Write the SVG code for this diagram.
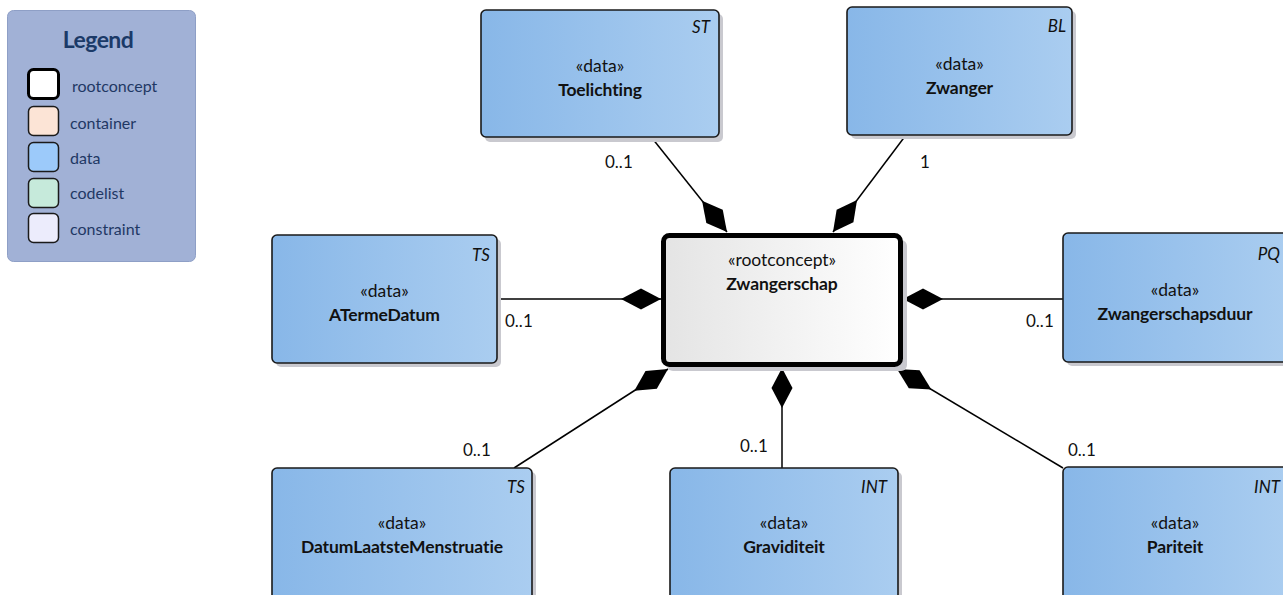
<svg xmlns="http://www.w3.org/2000/svg" width="1283" height="595" viewBox="0 0 1283 595">
<defs>
<linearGradient id="gData" x1="0" y1="0" x2="1" y2="0">
<stop offset="0" stop-color="#88b7e8"/>
<stop offset="1" stop-color="#aacdf0"/>
</linearGradient>
<linearGradient id="gRoot" x1="0" y1="0" x2="1" y2="0">
<stop offset="0" stop-color="#e4e4e4"/>
<stop offset="1" stop-color="#ffffff"/>
</linearGradient>
<marker id="dia" markerUnits="userSpaceOnUse" markerWidth="44" markerHeight="24" refX="40" refY="12" orient="auto">
<path d="M0,12 L20,1.5 L40,12 L20,22.5 Z" fill="#000"/>
</marker>
</defs>
<style>
.shadow{fill:#c9c9cf}
.data{fill:url(#gData);stroke:#1a1a1a;stroke-width:1.6}
.st{font-family:Lato,"Liberation Sans",sans-serif;font-size:17.5px;fill:#111;text-anchor:middle}
.nm{font-family:Lato,"Liberation Sans",sans-serif;font-size:17.5px;font-weight:bold;fill:#111;text-anchor:middle;letter-spacing:-0.1px}
.tp{font-family:Lato,"Liberation Sans",sans-serif;font-size:17px;font-style:italic;fill:#111;text-anchor:end}
.lbl{font-family:Lato,"Liberation Sans",sans-serif;font-size:17px;fill:#111}
.conn{stroke:#000;stroke-width:1.5;fill:none;marker-end:url(#dia)}
.lg{font-family:Lato,"Liberation Sans",sans-serif;font-size:16px;fill:#1f3864}
.sw{stroke:#1a1a1a;stroke-width:1.5}
</style>
<rect width="1283" height="595" fill="#ffffff"/>

<g id="legend">
<rect x="7.5" y="10.5" width="188" height="251" rx="6" fill="#a1b1d6" stroke="#8e9fc6" stroke-width="1"/>
<text x="98" y="48" text-anchor="middle" style="font-family:Lato,'Liberation Sans',sans-serif;font-size:23px;font-weight:bold;fill:#1b3a68;letter-spacing:-0.6px">Legend</text>
<rect x="28.5" y="69.5" width="30" height="29" rx="5" fill="#ffffff" stroke="#000" stroke-width="3"/>
<text class="lg" x="72" y="92">rootconcept</text>
<rect x="28.5" y="106.5" width="30" height="29" rx="5" fill="#fce4d6" class="sw"/>
<text class="lg" x="70" y="129">container</text>
<rect x="28.5" y="142.5" width="30" height="29" rx="5" fill="#9ccafa" class="sw"/>
<text class="lg" x="70" y="164">data</text>
<rect x="28.5" y="178.5" width="30" height="29" rx="5" fill="#c6eadb" class="sw"/>
<text class="lg" x="70" y="199">codelist</text>
<rect x="28.5" y="213.5" width="30" height="29" rx="5" fill="#ececfc" class="sw"/>
<text class="lg" x="70" y="235">constraint</text>
</g>

<g id="connectors">
<path class="conn" d="M652,138 L727,232"/>
<path class="conn" d="M906,135 L833,232"/>
<path class="conn" d="M497,299 L661,299"/>
<path class="conn" d="M1063,299 L903,299"/>
<path class="conn" d="M514,468 L668,369"/>
<path class="conn" d="M782,468 L782,368"/>
<path class="conn" d="M1063,468 L897,369"/>
<text class="lbl" x="605" y="168">0..1</text>
<text class="lbl" x="920" y="168">1</text>
<text class="lbl" x="505" y="327">0..1</text>
<text class="lbl" x="1026" y="327">0..1</text>
<text class="lbl" x="463" y="456">0..1</text>
<text class="lbl" x="740" y="452">0..1</text>
<text class="lbl" x="1068" y="456">0..1</text>
</g>

<g id="node-toelichting">
<rect class="shadow" x="485" y="14" width="238" height="128" rx="5"/>
<rect class="data" x="481" y="10" width="238" height="127" rx="5"/>
<text class="tp" x="710" y="33">ST</text>
<text class="st" x="600" y="72">«data»</text>
<text class="nm" x="600" y="96">Toelichting</text>
</g>

<g id="node-zwanger">
<rect class="shadow" x="851" y="11" width="225" height="128" rx="5"/>
<rect class="data" x="847" y="7" width="225" height="128" rx="5"/>
<text class="tp" x="1066" y="32">BL</text>
<text class="st" x="959.5" y="70">«data»</text>
<text class="nm" x="959.5" y="94">Zwanger</text>
</g>

<g id="node-zwangerschap">
<rect class="shadow" x="667" y="240" width="240" height="131" rx="6"/>
<rect x="663.5" y="235.5" width="237" height="129" rx="6" fill="url(#gRoot)" stroke="#000" stroke-width="5"/>
<text class="st" x="782" y="266">«rootconcept»</text>
<text class="nm" x="782" y="290">Zwangerschap</text>
</g>

<g id="node-atermedatum">
<rect class="shadow" x="276" y="239" width="225" height="128" rx="5"/>
<rect class="data" x="272" y="235" width="225" height="128" rx="5"/>
<text class="tp" x="490" y="261">TS</text>
<text class="st" x="384.5" y="297">«data»</text>
<text class="nm" x="384.5" y="321">ATermeDatum</text>
</g>

<g id="node-zwangerschapsduur">
<rect class="shadow" x="1067" y="237" width="225" height="129" rx="5"/>
<rect class="data" x="1063" y="233" width="225" height="129" rx="5"/>
<text class="tp" x="1280" y="260">PQ</text>
<text class="st" x="1175" y="296">«data»</text>
<text class="nm" x="1175" y="320">Zwangerschapsduur</text>
</g>

<g id="node-datumlaatstementruatie">
<rect class="shadow" x="276" y="472" width="260" height="140" rx="5"/>
<rect class="data" x="272" y="468" width="260" height="140" rx="5"/>
<text class="tp" x="525" y="493">TS</text>
<text class="st" x="402" y="529">«data»</text>
<text class="nm" x="402" y="553">DatumLaatsteMenstruatie</text>
</g>

<g id="node-graviditeit">
<rect class="shadow" x="674" y="472" width="228" height="140" rx="5"/>
<rect class="data" x="670" y="468" width="228" height="140" rx="5"/>
<text class="tp" x="887" y="493">INT</text>
<text class="st" x="784" y="529">«data»</text>
<text class="nm" x="784" y="553">Graviditeit</text>
</g>

<g id="node-pariteit">
<rect class="shadow" x="1067" y="471" width="225" height="140" rx="5"/>
<rect class="data" x="1063" y="467" width="225" height="140" rx="5"/>
<text class="tp" x="1280" y="493">INT</text>
<text class="st" x="1175" y="529">«data»</text>
<text class="nm" x="1175" y="553">Pariteit</text>
</g>
</svg>
